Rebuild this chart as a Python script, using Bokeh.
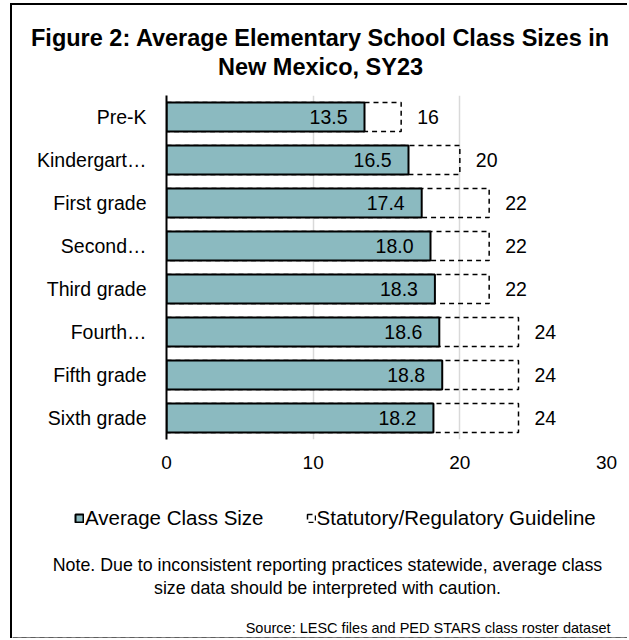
from bokeh.plotting import figure
from bokeh.models import (ColumnDataSource, Range1d, FactorRange, Legend,
                          LegendItem, LabelSet, FixedTicker, Label)
from bokeh.core.properties import value
from bokeh.embed import file_html
from bokeh.resources import INLINE

categories = ["Pre-K", "Kindergart…", "First grade", "Second…",
              "Third grade", "Fourth…", "Fifth grade", "Sixth grade"]
avg_size = [13.5, 16.5, 17.4, 18.0, 18.3, 18.6, 18.8, 18.2]
guideline = [16, 20, 22, 22, 22, 24, 24, 24]
x_ticks = [0, 10, 20, 30]

title_lines = ["Figure 2: Average Elementary School Class Sizes in", "New Mexico, SY23"]
note_lines = ["Note. Due to inconsistent reporting practices statewide, average class",
              "size data should be interpreted with caution."]
source_text = "Source: LESC files and PED STARS class roster dataset"
legend_labels = ["Average Class Size", "Statutory/Regulatory Guideline"]

FONT = "Liberation Sans"
BAR = "#8BBAC0"
W = 617


def bare(height):
    f = figure(width=W, height=height, x_range=Range1d(0, 1), y_range=Range1d(0, 1),
               output_backend="svg", toolbar_location=None,
               x_axis_type=None, y_axis_type=None,
               min_border=0, min_border_left=0, min_border_right=0,
               min_border_top=0, min_border_bottom=0)
    f.grid.visible = False
    f.outline_line_color = None
    f.background_fill_color = "white"
    f.border_fill_color = "white"
    return f


def lbl(f, text, x, y, size, align="center", bold=False):
    f.add_layout(Label(x=x, y=y, x_units="screen", y_units="screen", text=text,
                       text_align=align, text_baseline="middle", text_font=FONT,
                       text_font_size=size, text_color="black",
                       text_font_style="bold" if bold else "normal"))


# ---------- header ----------
header = bare(92)
header.styles = {"margin-left": "10px", "margin-top": "3px",
                 "border-left": "2px solid black", "border-top": "2px solid black"}
lbl(header, title_lines[0], 308, 60, "23.5px", bold=True)
lbl(header, title_lines[1], 308, 31, "23.5px", bold=True)

# ---------- main chart ----------
src = ColumnDataSource(dict(
    cat=categories, avg=avg_size, guide=guideline,
    avg_lbl=[f"{v:.1f}" for v in avg_size],
    guide_lbl=[str(v) for v in guideline],
))

p = figure(width=W, height=384,
           y_range=FactorRange(factors=categories[::-1]),
           x_range=Range1d(0, 30),
           output_backend="svg", toolbar_location=None,
           min_border_left=154, min_border_right=23,
           min_border_top=0, min_border_bottom=40)
p.styles = {"margin-left": "10px", "border-left": "2px solid black"}
p.outline_line_color = None
p.background_fill_color = "white"
p.border_fill_color = "white"

p.ygrid.grid_line_color = None
p.xgrid.grid_line_color = "#D9D9D9"
p.xgrid.grid_line_width = 1.5

p.xaxis.ticker = FixedTicker(ticks=x_ticks)
p.xaxis.axis_line_color = None
p.xaxis.major_tick_line_color = None
p.xaxis.minor_tick_line_color = None
p.xaxis.major_tick_out = 0
p.xaxis.major_tick_in = 0
p.xaxis.major_label_standoff = 16
p.xaxis.major_label_text_font = FONT
p.xaxis.major_label_text_font_size = "19px"
p.xaxis.major_label_text_color = "black"

p.yaxis.axis_line_color = "black"
p.yaxis.axis_line_width = 2
p.yaxis.major_tick_line_color = None
p.yaxis.minor_tick_line_color = None
p.yaxis.major_tick_out = 0
p.yaxis.major_tick_in = 0
p.yaxis.major_label_standoff = 20
p.yaxis.major_label_text_font = FONT
p.yaxis.major_label_text_font_size = "19.5px"
p.yaxis.major_label_text_color = "black"

guide_style = dict(fill_color=None, line_color="black", line_width=1.5, line_dash="5 4")
avg_style = dict(fill_color=BAR, line_color="black", line_width=2)

p.hbar(y="cat", left=0, right="guide", height=0.68, source=src, **guide_style)
p.hbar(y="cat", left=0, right="avg", height=0.68, source=src, **avg_style)

p.add_layout(LabelSet(x="avg", y="cat", text="avg_lbl", source=src,
                      x_offset=-17, text_align="right", text_baseline="middle",
                      text_font=value(FONT), text_font_size="19.5px", text_color="black"))
p.add_layout(LabelSet(x="guide", y="cat", text="guide_lbl", source=src,
                      x_offset=16, text_align="left", text_baseline="middle",
                      text_font=value(FONT), text_font_size="19.5px", text_color="black"))

# ---------- footer (legend + notes) ----------
footer = bare(159)
footer.styles = {"margin-left": "10px", "border-left": "2px solid black"}
# legend keys: one off-frame sample of each bar style, only so the legend can draw its swatches
keys = ColumnDataSource(dict(y=[-5], right=[1]))
k_avg = footer.hbar(y="y", left=0, right="right", height=0.1, source=keys, **avg_style)
k_guide = footer.hbar(y="y", left=0, right="right", height=0.1, source=keys, **guide_style)
legend = Legend(items=[LegendItem(label=legend_labels[0], renderers=[k_avg]),
                       LegendItem(label=legend_labels[1], renderers=[k_guide])],
                orientation="horizontal", location=(62, 108),
                glyph_width=10, glyph_height=10, label_standoff=1, spacing=42,
                padding=0, margin=0, border_line_color=None, background_fill_alpha=0,
                label_text_font=FONT, label_text_font_size="20.5px", label_text_color="black",
                label_height=20)
footer.add_layout(legend)

lbl(footer, note_lines[0], 315, 74, "17.8px")
lbl(footer, note_lines[1], 315, 51, "17.8px")
lbl(footer, source_text, 598, 11, "14.5px", align="right")

open("out.html", "w").write(file_html([header, p, footer], INLINE))
